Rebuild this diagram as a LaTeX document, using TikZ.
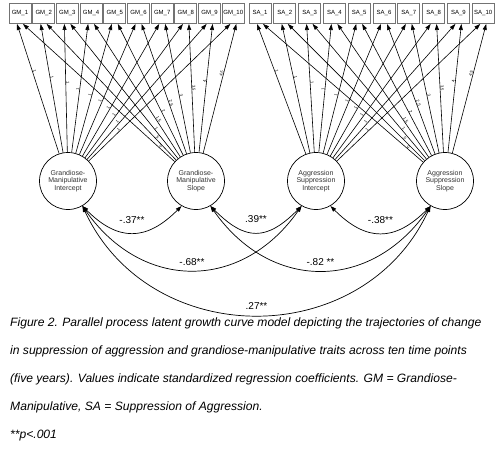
\documentclass[tikz,border=0pt]{standalone}
\usepackage{fontspec}
\setmainfont{Liberation Sans}
\usetikzlibrary{arrows.meta}

\begin{document}
\begin{tikzpicture}[x=1pt,y=1pt,
            obs/.style = {draw=black!55, line width=0.9pt,
                        minimum width=22pt, minimum height=20pt,
                        inner sep=0pt, font=\fontsize{6}{6}\selectfont},
            latent/.style = {circle, draw, line width=0.7pt,
                        minimum size=57pt, inner sep=0pt, align=center,
                        text=black!80, font=\fontsize{7}{7.5}\selectfont},
            load/.style = {-{Triangle[length=6pt,width=4pt]}, line width=0.6pt},
            cov/.style = {{Triangle[length=6pt,width=4pt]}-{Triangle[length=6pt,width=4pt]},
                        line width=0.7pt},
            wt/.style = {sloped, above, inner sep=0.3pt,
                        font=\fontsize{4.2}{4.2}\selectfont},
            coef/.style = {above=3pt, inner sep=1pt, font=\fontsize{10}{12}\selectfont}]
            \useasboundingbox (0,0) rectangle (500,-455);

            % Observed measures
            \foreach \i in {1,...,10}{
                \node[obs] (GM\i) at ({20+(\i-1)*23.7},-13.5) {GM\_\i};
                \node[obs] (SA\i) at ({260+(\i-1)*24.8},-13.5) {SA\_\i};
            }

            % Growth factors
            \node[latent] (GMI) at (68,-181) {Grandiose-\\Manipulative\\Intercept};
            \node[latent] (GMS) at (196,-181) {Grandiose-\\Manipulative\\Slope};
            \node[latent] (SAI) at (316,-181) {Aggression\\Suppression\\Intercept};
            \node[latent] (SAS) at (445,-181) {Aggression\\Suppression\\Slope};

            % Factor loadings
            \foreach \i/\w in {1/0,2/.5,3/1,4/1.5,5/2,6/2.5,7/3,8/3.5,9/4,10/4.5}{
                \pgfmathsetmacro{\pi}{0.63-(\i-1)*0.0455}
                \pgfmathsetmacro{\ps}{0.10+(\i-1)*0.057}
                \draw[load] (GMI) -- ([xshift=-3pt]GM\i.south) node[wt,pos=\pi] {1};
                \draw[load] (GMS) -- ([xshift=3pt]GM\i.south) node[wt,pos=\ps] {\w};
                \draw[load] (SAI) -- ([xshift=-3pt]SA\i.south) node[wt,pos=\pi] {1};
                \draw[load] (SAS) -- ([xshift=3pt]SA\i.south) node[wt,pos=\ps] {\w};
            }

            % Covariances
            \draw[cov] (GMI.-60) to[out=-45,in=-135,looseness=1.3] node[coef, above=5pt] {-.37**} (GMS.-120);
            \draw[cov] (GMS.-60) to[out=-45,in=-135,looseness=1.4] node[coef, above=5pt] {.39**} (SAI.-120);
            \draw[cov] (SAI.-60) to[out=-45,in=-135,looseness=1.3] node[coef, above=5pt] {-.38**} (SAS.-120);
            \draw[cov] (GMI.-60) to[out=-55,in=-125,looseness=1.22] node[coef] {-.68**} (SAI.-120);
            \draw[cov] (GMS.-60) to[out=-55,in=-125,looseness=1.22] node[coef] {-.82 **} (SAS.-120);
            \draw[cov] (GMI.-60) to[out=-65,in=-115,looseness=1.18] node[coef, above=1pt] {.27**} (SAS.-120);

            % Caption
            \node[anchor=north west, align=left, inner sep=0pt,
                font=\fontsize{12.1}{28}\selectfont\itshape] (caption) at (10,-318)
                {Figure 2. Parallel process latent growth curve model depicting the trajectories of change\\
                in suppression of aggression and grandiose-manipulative traits across ten time points\\
                (five years). Values indicate standardized regression coefficients. GM = Grandiose-\\
                Manipulative, SA = Suppression of Aggression.\\
                **p<.001};
        \end{tikzpicture}
\end{document}
